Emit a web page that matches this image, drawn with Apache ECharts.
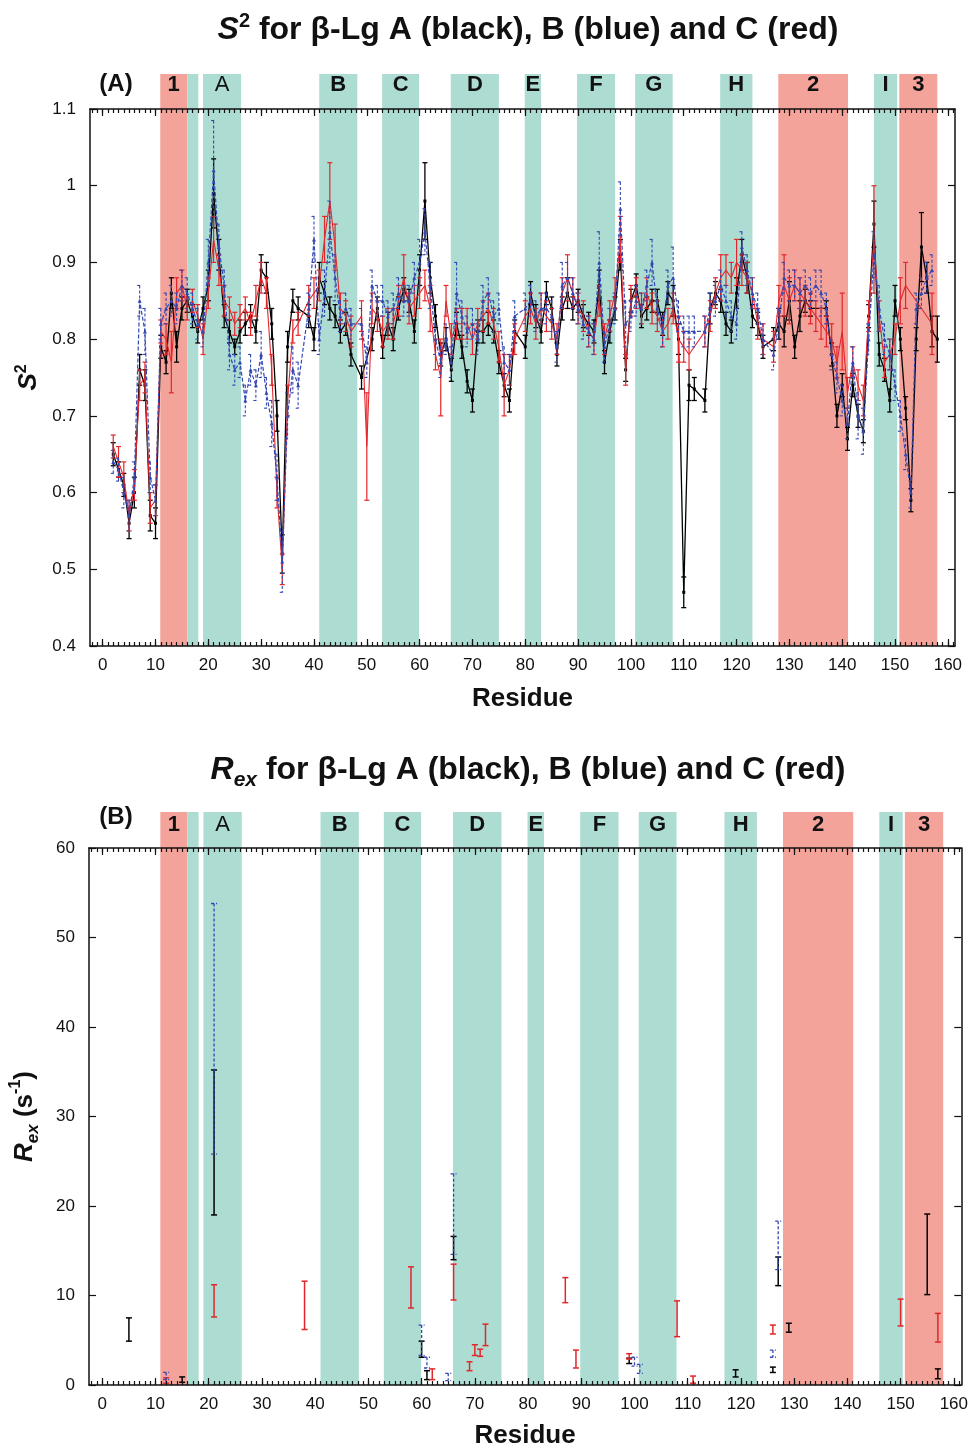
<!DOCTYPE html>
<html>
<head>
  <meta charset="utf-8">
  <script src="https://cdn.jsdelivr.net/npm/echarts@6.0.0/dist/echarts.min.js"></script>
  <style>html, body { margin: 0; padding: 0; background: #fff; }</style>
</head>
<body>
  <div id="chart" style="width: 971px; height: 1450px;"></div>
  <script>
  // residue numbers (x values) for the S2 panel
  var residues = [
    2, 3, 4, 5, 6, 7, 8, 9, 10, 11,
    12, 13, 14, 15, 16, 17, 18, 19, 20, 21,
    22, 23, 24, 25, 26, 27, 28, 29, 30, 31,
    32, 33, 34, 35, 36, 37, 38, 39, 40, 41,
    42, 43, 44, 45, 46, 47, 48, 49, 50, 51,
    52, 53, 54, 55, 56, 57, 58, 59, 60, 61,
    62, 63, 64, 65, 66, 67, 68, 69, 70, 71,
    72, 73, 74, 75, 76, 77, 78, 79, 80, 81,
    82, 83, 84, 85, 86, 87, 88, 89, 90, 91,
    92, 93, 94, 95, 96, 97, 98, 99, 100, 101,
    102, 103, 104, 105, 106, 107, 108, 109, 110, 111,
    112, 113, 114, 115, 116, 117, 118, 119, 120, 121,
    122, 123, 124, 125, 126, 127, 128, 129, 130, 131,
    132, 133, 134, 135, 136, 137, 138, 139, 140, 141,
    142, 143, 144, 145, 146, 147, 148, 149, 150, 151,
    152, 153, 154, 155, 156, 157, 158
  ];

  // S2, variant A (black)
  var s2A = [
    0.65, 0.63, 0.61, 0.56, 0.60, 0.76, 0.74, 0.57, 0.56, 0.79,
    0.77, 0.86, 0.79, 0.84, 0.85, 0.83, 0.81, 0.84, 0.87, 0.99,
    0.91, 0.83, 0.81, 0.79, 0.81, 0.82, 0.83, 0.81, 0.89, 0.88,
    0.82, 0.70, 0.52, 0.79, 0.85, 0.84, null, 0.83, 0.80, 0.88,
    0.86, 0.84, 0.83, 0.81, 0.82, 0.78, null, 0.75, null, 0.80,
    0.84, 0.79, 0.82, 0.80, 0.84, 0.865, 0.85, 0.81, 0.89, 0.98,
    0.88, 0.83, 0.78, 0.80, 0.76, 0.82, 0.79, 0.745, 0.72, 0.81,
    0.81, 0.82, 0.81, 0.77, 0.74, 0.72, 0.81, null, 0.79, 0.86,
    0.83, 0.81, 0.86, 0.84, 0.78, 0.84, 0.86, 0.84, 0.85, 0.83,
    0.82, 0.81, 0.87, 0.77, 0.81, 0.84, 0.91, 0.76, 0.85, 0.87,
    0.83, 0.84, 0.85, 0.85, 0.82, 0.86, 0.85, 0.80, 0.47, 0.74,
    0.735, null, 0.72, 0.84, 0.86, 0.85, 0.82, 0.81, 0.86, 0.91,
    0.88, 0.83, 0.82, 0.79, null, 0.80, 0.82, 0.81, 0.85, 0.79,
    0.83, 0.85, 0.84, null, null, 0.84, 0.78, 0.70, 0.74, 0.67,
    0.74, 0.70, 0.68, 0.83, 0.95, 0.78, 0.76, 0.72, 0.85, 0.80,
    0.71, 0.59, 0.80, 0.92, 0.88, 0.81, 0.80
  ];
  var errA = [
    0.015, 0.01, 0.015, 0.02, 0.02, 0.02, 0.02, 0.02, 0.02, 0.015,
    0.015, 0.02, 0.02, 0.015, 0.015, 0.015, 0.015, 0.015, 0.02, 0.045,
    0.02, 0.015, 0.015, 0.01, 0.015, 0.015, 0.015, 0.015, 0.02, 0.02,
    0.02, 0.02, 0.025, 0.02, 0.015, 0.015, null, 0.015, 0.015, 0.02,
    0.015, 0.015, 0.015, 0.015, 0.015, 0.015, null, 0.015, null, 0.015,
    0.015, 0.015, 0.015, 0.015, 0.015, 0.015, 0.015, 0.015, 0.02, 0.05,
    0.02, 0.015, 0.015, 0.015, 0.015, 0.015, 0.015, 0.015, 0.015, 0.015,
    0.015, 0.015, 0.015, 0.015, 0.015, 0.015, 0.015, null, 0.015, 0.015,
    0.015, 0.015, 0.015, 0.015, 0.015, 0.015, 0.02, 0.015, 0.015, 0.015,
    0.015, 0.015, 0.02, 0.015, 0.015, 0.015, 0.02, 0.015, 0.015, 0.015,
    0.015, 0.015, 0.015, 0.015, 0.015, 0.015, 0.02, 0.02, 0.02, 0.02,
    0.015, null, 0.015, 0.02, 0.015, 0.015, 0.015, 0.015, 0.02, 0.02,
    0.02, 0.015, 0.015, 0.015, null, 0.015, 0.02, 0.02, 0.025, 0.015,
    0.02, 0.015, 0.01, null, null, 0.01, 0.015, 0.015, 0.015, 0.015,
    0.015, 0.015, 0.015, 0.015, 0.03, 0.015, 0.015, 0.015, 0.02, 0.015,
    0.015, 0.015, 0.015, 0.045, 0.02, 0.02, 0.03
  ];

  // S2, variant B (blue)
  var s2B = [
    0.64, 0.63, 0.60, 0.57, 0.62, 0.85, 0.81, 0.62, 0.59, 0.82,
    0.84, 0.85, 0.84, 0.87, 0.86, 0.84, 0.82, 0.81, 0.90, 1.02,
    0.92, 0.87, 0.78, 0.76, 0.77, 0.72, 0.76, 0.74, 0.78, 0.73,
    0.69, 0.62, 0.51, 0.70, 0.76, 0.74, null, 0.84, 0.93, 0.80,
    0.86, 0.94, 0.88, 0.83, 0.84, 0.82, null, 0.82, 0.77, 0.87,
    0.85, 0.85, 0.83, 0.84, 0.86, 0.85, 0.85, 0.88, 0.90, 0.94,
    0.87, 0.80, 0.77, 0.80, 0.77, 0.86, 0.83, 0.81, 0.82, 0.80,
    0.85, 0.86, 0.83, 0.84, 0.77, 0.76, 0.83, null, 0.84, 0.85,
    0.83, 0.84, 0.84, 0.83, 0.79, 0.87, 0.88, 0.86, 0.84, 0.82,
    0.81, 0.80, 0.90, 0.79, 0.82, 0.84, 0.97, 0.82, 0.83, 0.85,
    0.84, 0.87, 0.90, 0.84, 0.81, 0.87, 0.88, 0.83, 0.81, 0.81,
    0.81, null, 0.81, 0.84, 0.85, 0.87, 0.85, 0.83, 0.82, 0.92,
    0.89, 0.86, 0.84, 0.80, null, 0.78, 0.82, 0.88, 0.87, 0.87,
    0.86, 0.87, 0.86, 0.87, 0.86, 0.84, 0.78, 0.75, 0.72, 0.69,
    0.77, 0.70, 0.68, 0.80, 0.91, 0.84, 0.80, 0.78, 0.74, 0.70,
    0.65, 0.60, 0.84, 0.86, 0.88, 0.89, null
  ];
  var errB = [
    0.015, 0.015, 0.02, 0.02, 0.02, 0.02, 0.03, 0.02, 0.02, 0.02,
    0.02, 0.02, 0.02, 0.02, 0.02, 0.02, 0.02, 0.02, 0.03, 0.065,
    0.03, 0.02, 0.02, 0.02, 0.02, 0.02, 0.02, 0.02, 0.03, 0.02,
    0.03, 0.03, 0.04, 0.03, 0.03, 0.03, null, 0.02, 0.03, 0.02,
    0.03, 0.04, 0.03, 0.02, 0.02, 0.02, null, 0.02, 0.02, 0.02,
    0.02, 0.02, 0.02, 0.02, 0.02, 0.02, 0.02, 0.02, 0.03, 0.03,
    0.03, 0.02, 0.02, 0.02, 0.02, 0.04, 0.02, 0.02, 0.02, 0.02,
    0.02, 0.02, 0.02, 0.02, 0.02, 0.02, 0.02, null, 0.02, 0.02,
    0.02, 0.02, 0.02, 0.02, 0.02, 0.03, 0.02, 0.02, 0.02, 0.02,
    0.02, 0.02, 0.04, 0.02, 0.02, 0.02, 0.035, 0.03, 0.02, 0.02,
    0.02, 0.02, 0.03, 0.02, 0.02, 0.02, 0.04, 0.02, 0.02, 0.02,
    0.02, null, 0.02, 0.02, 0.02, 0.02, 0.02, 0.02, 0.02, 0.02,
    0.02, 0.02, 0.02, 0.02, null, 0.02, 0.02, 0.02, 0.02, 0.02,
    0.02, 0.02, 0.02, 0.02, 0.03, 0.02, 0.02, 0.02, 0.02, 0.02,
    0.02, 0.03, 0.03, 0.02, 0.03, 0.03, 0.02, 0.02, 0.02, 0.02,
    0.02, 0.02, 0.02, 0.02, 0.02, 0.02, null
  ];

  // S2, variant C (red)
  var s2C = [
    0.66, 0.64, 0.62, 0.57, 0.61, 0.74, 0.75, 0.58, 0.59, 0.81,
    0.80, 0.77, 0.86, 0.87, 0.84, 0.85, 0.83, 0.80, 0.86, 0.93,
    0.89, 0.85, 0.84, 0.82, 0.83, 0.84, 0.82, 0.85, 0.88, 0.86,
    0.76, 0.60, 0.50, 0.72, 0.81, 0.82, null, 0.85, 0.86, 0.87,
    0.93, 0.98, 0.92, 0.84, 0.83, 0.81, null, 0.83, 0.66, 0.84,
    0.83, 0.81, 0.82, 0.82, 0.85, 0.88, 0.84, 0.85, 0.86, 0.87,
    0.84, 0.78, 0.75, 0.85, 0.80, 0.82, 0.82, 0.82, 0.80, 0.82,
    0.83, 0.84, 0.82, 0.79, 0.74, 0.76, 0.80, null, 0.83, 0.84,
    0.82, 0.84, 0.83, 0.82, 0.80, 0.86, 0.88, 0.86, 0.84, 0.83,
    0.81, 0.80, 0.85, 0.80, 0.83, 0.86, 0.93, 0.76, 0.85, 0.86,
    0.84, 0.86, 0.84, 0.83, 0.81, 0.82, 0.84, 0.80, 0.79, 0.78,
    null, null, 0.81, 0.83, 0.86, 0.88, 0.89, 0.88, 0.90, 0.89,
    0.88, 0.86, 0.82, 0.80, null, 0.79, 0.85, 0.87, 0.85, 0.87,
    0.86, 0.85, 0.84, 0.83, 0.82, 0.81, 0.80, 0.77, 0.81, 0.73,
    0.77, 0.74, 0.72, 0.83, 0.93, 0.83, 0.77, 0.78, 0.80, 0.85,
    0.87, null, null, null, null, 0.82, null
  ];
  var errC = [
    0.015, 0.02, 0.02, 0.02, 0.02, 0.02, 0.02, 0.02, 0.02, 0.015,
    0.02, 0.04, 0.02, 0.02, 0.015, 0.015, 0.015, 0.02, 0.02, 0.03,
    0.02, 0.02, 0.015, 0.015, 0.015, 0.015, 0.015, 0.02, 0.02, 0.02,
    0.02, 0.02, 0.02, 0.02, 0.015, 0.015, null, 0.02, 0.02, 0.02,
    0.03, 0.05, 0.03, 0.02, 0.02, 0.02, null, 0.02, 0.07, 0.02,
    0.02, 0.02, 0.02, 0.02, 0.02, 0.03, 0.02, 0.02, 0.02, 0.02,
    0.03, 0.02, 0.05, 0.02, 0.02, 0.02, 0.02, 0.02, 0.02, 0.02,
    0.02, 0.02, 0.02, 0.02, 0.04, 0.02, 0.02, null, 0.02, 0.02,
    0.02, 0.02, 0.02, 0.02, 0.02, 0.02, 0.03, 0.02, 0.02, 0.02,
    0.02, 0.02, 0.02, 0.02, 0.02, 0.02, 0.03, 0.02, 0.02, 0.02,
    0.02, 0.02, 0.02, 0.02, 0.02, 0.02, 0.02, 0.03, 0.02, 0.02,
    null, null, 0.02, 0.02, 0.02, 0.03, 0.02, 0.02, 0.03, 0.02,
    0.02, 0.02, 0.02, 0.02, null, 0.02, 0.02, 0.04, 0.03, 0.02,
    0.02, 0.02, 0.02, 0.02, 0.02, 0.02, 0.02, 0.02, 0.05, 0.02,
    0.02, 0.02, 0.02, 0.02, 0.07, 0.02, 0.02, 0.02, 0.02, 0.03,
    0.03, null, null, null, null, 0.04, null
  ];

  // Rex (s-1): [residue, value, error]
  var rexA = [[5, 6.2, 1.3], [15, 0.6, 0.3], [21, 27.1, 8.1], [60, 4.0, 0.9], [61, 1.1, 0.5],
              [66, 15.3, 1.3], [99, 2.7, 0.3], [119, 1.3, 0.4], [126, 1.7, 0.3], [127, 12.7, 1.6],
              [129, 6.4, 0.5], [155, 14.6, 4.5], [157, 1.25, 0.55]];
  var rexB = [[12, 1.0, 0.4], [21, 39.8, 14.0], [60, 5.0, 1.7], [61, 2.5, 0.6], [65, 0.9, 0.4],
              [66, 19.1, 4.5], [100, 2.6, 0.5], [101, 1.8, 0.5], [126, 3.5, 0.4], [127, 15.6, 2.7]];
  var rexC = [[12, 0.5, 0.3], [21, 9.4, 1.8], [38, 8.9, 2.7], [58, 10.9, 2.3], [62, 1.2, 0.6],
              [66, 11.5, 2.0], [69, 2.1, 0.5], [70, 3.9, 0.6], [71, 3.6, 0.4], [72, 5.6, 1.2],
              [87, 10.6, 1.4], [89, 2.9, 1.0], [99, 3.2, 0.3], [108, 7.4, 2.0], [111, 0.6, 0.4],
              [126, 6.2, 0.5], [150, 8.1, 1.5], [157, 6.4, 1.6]];

  // secondary structure elements
  var bandStart = [10.9, 16.0, 19.0, 41.0, 52.9, 65.9, 79.9, 89.8, 100.8, 116.9, 127.9, 146.0, 150.8];
  var bandEnd = [16.0, 18.1, 26.2, 48.2, 59.9, 75.0, 83.0, 97.0, 107.9, 123.0, 141.1, 150.4, 158.0];
  var bandLabel = ['1', '', 'A', 'B', 'C', 'D', 'E', 'F', 'G', 'H', '2', 'I', '3'];
  var bandKind = ['helix', 'strand', 'strand', 'strand', 'strand', 'strand', 'strand', 'strand',
                  'strand', 'strand', 'helix', 'strand', 'helix'];

  var majorTicks = [0, 10, 20, 30, 40, 50, 60, 70, 80, 90, 100, 110, 120, 130, 140, 150, 160];

  var FONT = '"Liberation Sans", Arial, Helvetica, sans-serif';
  var INK = '#111';
  var RED = '#e3262b', BLUE = '#3347b3', BLACK = '#000';
  var minorTicks = [];
  for (var t = -2; t <= 161; t++) minorTicks.push(t);

  function pairs(vals) {
    var out = [];
    residues.forEach(function (r, i) { if (vals[i] != null) out.push([r, vals[i]]); });
    return out;
  }
  function triples(vals, errs) {
    var out = [];
    residues.forEach(function (r, i) { if (vals[i] != null) out.push([r, vals[i], errs[i]]); });
    return out;
  }

  function errRender(color, dash, cap, lw) {
    return function (params, api) {
      var x = api.value(0), y = api.value(1), e = api.value(2);
      var hi = api.coord([x, y + e]), lo = api.coord([x, y - e]);
      function st() { return { stroke: color, lineWidth: lw, lineDash: dash }; }
      return {
        type: 'group',
        children: [
          { type: 'line', shape: { x1: hi[0], y1: hi[1], x2: lo[0], y2: lo[1] }, style: st() },
          { type: 'line', shape: { x1: hi[0] - cap, y1: hi[1], x2: hi[0] + cap, y2: hi[1] }, style: st() },
          { type: 'line', shape: { x1: lo[0] - cap, y1: lo[1], x2: lo[0] + cap, y2: lo[1] }, style: st() }
        ]
      };
    };
  }

  function bandRender(yMin, yMax, up, labelOff) {
    return function (params, api) {
      var i = params.dataIndex;
      var p0 = api.coord([api.value(0), yMax]);
      var p1 = api.coord([api.value(1), yMin]);
      var fill = bandKind[i] === 'helix' ? '#f4a39a' : '#acdcd2';
      return {
        type: 'group',
        children: [
          { type: 'rect', shape: { x: p0[0], y: p0[1] - up, width: p1[0] - p0[0], height: p1[1] - p0[1] + up },
            style: { fill: fill } },
          { type: 'text', x: (p0[0] + p1[0]) / 2, y: p0[1] - labelOff,
            style: { text: bandLabel[i], fill: INK, fontSize: 22, fontFamily: FONT,
                     fontWeight: bandLabel[i] === 'A' ? 'normal' : 'bold',
                     align: 'center', verticalAlign: 'middle', textAlign: 'center', textVerticalAlign: 'middle' } }
        ]
      };
    };
  }

  function xAxes(grid, min, max, gap) {
    var line = { onZero: false, lineStyle: { color: INK, width: 1.5 } };
    var tick = { color: INK, width: 1.2 };
    return [
      { type: 'value', gridIndex: grid, position: 'bottom', min: min, max: max, z: 10,
        axisLine: line, splitLine: { show: false },
        axisTick: { inside: true, length: 7, customValues: majorTicks, lineStyle: tick },
        axisLabel: { customValues: majorTicks, fontSize: 17, color: INK, fontFamily: FONT, margin: 11 },
        name: 'Residue', nameLocation: 'middle', nameGap: gap,
        nameTextStyle: { fontSize: 26, fontWeight: 'bold', color: INK, fontFamily: FONT } },
      { type: 'value', gridIndex: grid, position: 'bottom', min: min, max: max, z: 10,
        axisLine: { show: false, onZero: false }, splitLine: { show: false }, axisLabel: { show: false },
        axisTick: { inside: true, length: 4, customValues: minorTicks, lineStyle: tick } },
      { type: 'value', gridIndex: grid, position: 'top', min: min, max: max, z: 10,
        axisLine: line, splitLine: { show: false }, axisLabel: { show: false },
        axisTick: { inside: true, length: 7, customValues: majorTicks, lineStyle: tick } },
      { type: 'value', gridIndex: grid, position: 'top', min: min, max: max, z: 10,
        axisLine: { show: false, onZero: false }, splitLine: { show: false }, axisLabel: { show: false },
        axisTick: { inside: true, length: 4, customValues: minorTicks, lineStyle: tick } }
    ];
  }

  function yAxes(grid, min, max, interval, name, gap, rich) {
    var line = { onZero: false, lineStyle: { color: INK, width: 1.5 } };
    var tick = { inside: true, length: 7, lineStyle: { color: INK, width: 1.2 } };
    return [
      { type: 'value', gridIndex: grid, position: 'left', min: min, max: max, interval: interval, z: 10,
        axisLine: line, axisTick: tick, splitLine: { show: false },
        axisLabel: { fontSize: 17, color: INK, fontFamily: FONT, margin: 14 },
        name: name, nameLocation: 'middle', nameGap: gap, nameRotate: 90,
        nameTextStyle: { color: INK, fontFamily: FONT, rich: rich } },
      { type: 'value', gridIndex: grid, position: 'right', min: min, max: max, interval: interval, z: 10,
        axisLine: line, axisTick: tick, splitLine: { show: false }, axisLabel: { show: false } }
    ];
  }

  var chart = echarts.init(document.getElementById('chart'));

  var s2Rich = {
    it: { fontSize: 26, fontWeight: 'bold', fontStyle: 'italic', fontFamily: FONT, color: INK },
    sup: { fontSize: 16, fontWeight: 'bold', fontFamily: FONT, color: INK, verticalAlign: 'top', lineHeight: 30 }
  };
  var rexRich = {
    it: { fontSize: 26, fontWeight: 'bold', fontStyle: 'italic', fontFamily: FONT, color: INK },
    sub: { fontSize: 17, fontWeight: 'bold', fontStyle: 'italic', fontFamily: FONT, color: INK, verticalAlign: 'bottom', lineHeight: 34 },
    n: { fontSize: 26, fontWeight: 'bold', fontFamily: FONT, color: INK },
    sup: { fontSize: 16, fontWeight: 'bold', fontFamily: FONT, color: INK, verticalAlign: 'top', lineHeight: 30 }
  };
  var titleRich = {
    it: { fontSize: 32, fontWeight: 'bold', fontStyle: 'italic', fontFamily: FONT, fill: INK, color: INK },
    sup: { fontSize: 20, fontWeight: 'bold', fontFamily: FONT, fill: INK, color: INK, verticalAlign: 'top', lineHeight: 37 },
    sub: { fontSize: 21, fontWeight: 'bold', fontStyle: 'italic', fontFamily: FONT, fill: INK, color: INK, verticalAlign: 'bottom', lineHeight: 41 },
    t: { fontSize: 32, fontWeight: 'bold', fontFamily: FONT, fill: INK, color: INK }
  };

  var option = {
    animation: false,
    backgroundColor: '#fff',
    grid: [
      { left: 90, right: 16, top: 109, height: 537 },
      { left: 88, right: 9, top: 848, height: 539 }
    ],
    xAxis: xAxes(0, -2.4, 161.35, 40).concat(xAxes(1, -2.5, 161.4, 38)),
    yAxis: yAxes(0, 0.4, 1.1, 0.1, '{it|S}{sup|2}', 46, s2Rich)
      .concat(yAxes(1, 0, 60, 10, '{it|R}{sub|ex}{n| (s}{sup|-1}{n|)}', 47, rexRich)),
    graphic: [
      { type: 'text', x: 528, y: 30, style: { text: '{it|S}{sup|2}{t| for β-Lg A (black), B (blue) and C (red)}',
        rich: titleRich, align: 'center', verticalAlign: 'middle' } },
      { type: 'text', x: 528, y: 770, style: { text: '{it|R}{sub|ex}{t| for β-Lg A (black), B (blue) and C (red)}',
        rich: titleRich, align: 'center', verticalAlign: 'middle' } },
      { type: 'text', x: 116, y: 84, style: { text: '(A)', fontSize: 24, fontWeight: 'bold', fontFamily: FONT,
        fill: INK, align: 'center', verticalAlign: 'middle' } },
      { type: 'text', x: 116, y: 817, style: { text: '(B)', fontSize: 24, fontWeight: 'bold', fontFamily: FONT,
        fill: INK, align: 'center', verticalAlign: 'middle' } }
    ],
    series: [
      { type: 'custom', xAxisIndex: 0, yAxisIndex: 0, z: 0, silent: true,
        renderItem: bandRender(0.4, 1.1, 35, 24),
        data: bandStart.map(function (s, i) { return [s, bandEnd[i]]; }) },
      { type: 'line', xAxisIndex: 0, yAxisIndex: 0, z: 3, data: pairs(s2A),
        symbol: 'rect', symbolSize: 3, itemStyle: { color: BLACK },
        lineStyle: { color: BLACK, width: 1.3 } },
      { type: 'custom', xAxisIndex: 0, yAxisIndex: 0, z: 3, renderItem: errRender(BLACK, null, 2.5, 1.3),
        encode: { x: 0, y: 1 }, data: triples(s2A, errA) },
      { type: 'line', xAxisIndex: 0, yAxisIndex: 0, z: 4, data: pairs(s2C),
        symbol: 'none', lineStyle: { color: RED, width: 1.1 } },
      { type: 'custom', xAxisIndex: 0, yAxisIndex: 0, z: 4, renderItem: errRender(RED, null, 2.5, 1.2),
        encode: { x: 0, y: 1 }, data: triples(s2C, errC) },
      { type: 'line', xAxisIndex: 0, yAxisIndex: 0, z: 5, data: pairs(s2B),
        symbol: 'triangle', symbolSize: 4, itemStyle: { color: BLUE },
        lineStyle: { color: BLUE, width: 1.2, type: [4, 2] } },
      { type: 'custom', xAxisIndex: 0, yAxisIndex: 0, z: 5, renderItem: errRender(BLUE, [3, 2], 2.5, 1.1),
        encode: { x: 0, y: 1 }, data: triples(s2B, errB) },

      { type: 'custom', xAxisIndex: 4, yAxisIndex: 2, z: 0, silent: true,
        renderItem: bandRender(0, 60, 36, 23),
        data: bandStart.map(function (s, i) { return [s, bandEnd[i]]; }) },
      { type: 'custom', xAxisIndex: 4, yAxisIndex: 2, z: 3, renderItem: errRender(BLACK, null, 3, 1.5),
        encode: { x: 0, y: 1 }, data: rexA },
      { type: 'custom', xAxisIndex: 4, yAxisIndex: 2, z: 4, renderItem: errRender(RED, null, 3, 1.5),
        encode: { x: 0, y: 1 }, data: rexC },
      { type: 'custom', xAxisIndex: 4, yAxisIndex: 2, z: 5, renderItem: errRender(BLUE, [3, 2], 3, 1.3),
        encode: { x: 0, y: 1 }, data: rexB }
    ]
  };

  chart.setOption(option);
  </script>
</body>
</html>
